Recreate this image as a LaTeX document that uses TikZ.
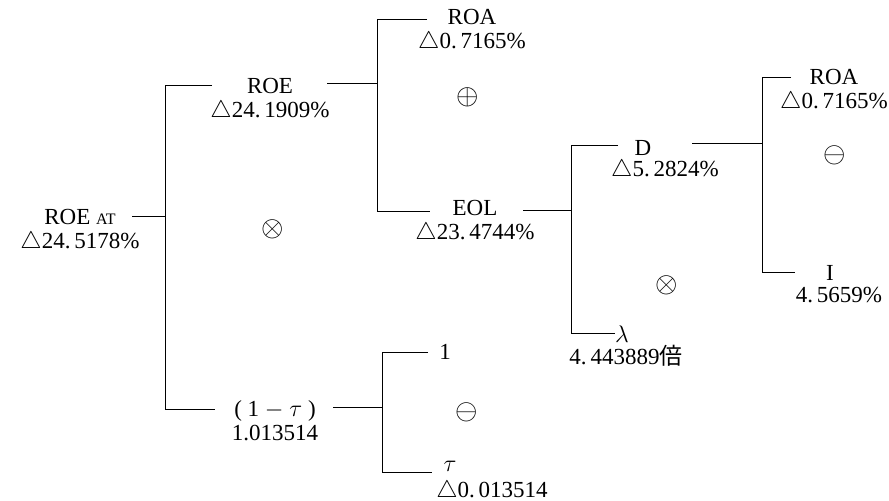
\documentclass[tikz,border=0pt]{standalone}
\usepackage{fontspec}
\setmainfont{Liberation Serif}
\newfontfamily\cjk{Noto Sans CJK JP}
\begin{document}
\begin{tikzpicture}[x=0.5pt,y=-0.5pt,
  lbl/.style={inner sep=0pt, align=center, font=\fontsize{11.5}{12}\selectfont},
  op/.style={inner sep=0pt, font=\fontsize{15}{15}\selectfont},
  br/.style={line width=0.5pt}]
\useasboundingbox (0,0) rectangle (889,500);
% labels
\node[lbl] (roeat) at (80,231) {ROE {\fontsize{8}{8}\selectfont AT}\\$\triangle$24.\,5178\%};
\node[lbl] (roe) at (270,100) {ROE\\$\triangle$24.\,1909\%};
\node[lbl] (omt) at (275,421) {( 1 $-$ $\tau$ )\\1.013514};
\node[lbl] (roa1) at (472,31) {ROA\\$\triangle$0.\,7165\%};
\node[lbl] (eol) at (475,222) {EOL\\$\triangle$23.\,4744\%};
\node[lbl] (one) at (445,352) {1};
\node[lbl] (tau) at (450,466) {$\tau$};
\node[lbl] (tauv) at (492,491) {$\triangle$0.\,013514};
\node[lbl] (d) at (643,148) {D};
\node[lbl] (dv) at (665,170) {$\triangle$5.\,2824\%};
\node[lbl] (lam) at (622,334) {$\lambda$};
\node[lbl] (lamv) at (626,356) {4.\,443889{\cjk 倍}};
\node[lbl] (roa2) at (834,91) {ROA\\$\triangle$0.\,7165\%};
\node[lbl] (ii) at (830,273) {I};
\node[lbl] (iv) at (839,295) {4.\,5659\%};
% operators
\node[op] (o1) at (273,229) {$\otimes$};
\node[op] (o2) at (468,97) {$\oplus$};
\node[op] (o3) at (467,412) {$\ominus$};
\node[op] (o4) at (667,285) {$\otimes$};
\node[op] (o5) at (835,155) {$\ominus$};
% tree 1
\coordinate (p1) at (132,216); \coordinate (j1) at (165,216);
\coordinate (t1a) at (165,85); \coordinate (t1b) at (212,85);
\coordinate (b1a) at (165,409); \coordinate (b1b) at (215,409);
\draw[br] (p1) -- (j1);
\draw[br] (t1b) -- (t1a) -- (b1a) -- (b1b);
% tree 2
\coordinate (p2) at (327,83); \coordinate (j2) at (377,83);
\coordinate (t2a) at (377,19); \coordinate (t2b) at (427,19);
\coordinate (b2a) at (377,211); \coordinate (b2b) at (430,211);
\draw[br] (p2) -- (j2);
\draw[br] (t2b) -- (t2a) -- (b2a) -- (b2b);
% tree 3
\coordinate (p3) at (333,407); \coordinate (j3) at (382,407);
\coordinate (t3a) at (382,352); \coordinate (t3b) at (428,352);
\coordinate (b3a) at (382,472); \coordinate (b3b) at (432,472);
\draw[br] (p3) -- (j3);
\draw[br] (t3b) -- (t3a) -- (b3a) -- (b3b);
% tree 4
\coordinate (p4) at (523,210); \coordinate (j4) at (571,210);
\coordinate (t4a) at (571,145); \coordinate (t4b) at (618,145);
\coordinate (b4a) at (571,333); \coordinate (b4b) at (615,333);
\draw[br] (p4) -- (j4);
\draw[br] (t4b) -- (t4a) -- (b4a) -- (b4b);
% tree 5
\coordinate (p5) at (692,143); \coordinate (j5) at (762,143);
\coordinate (t5a) at (762,77); \coordinate (t5b) at (791,77);
\coordinate (b5a) at (762,272); \coordinate (b5b) at (795,272);
\draw[br] (p5) -- (j5);
\draw[br] (t5b) -- (t5a) -- (b5a) -- (b5b);
\end{tikzpicture}
\end{document}
